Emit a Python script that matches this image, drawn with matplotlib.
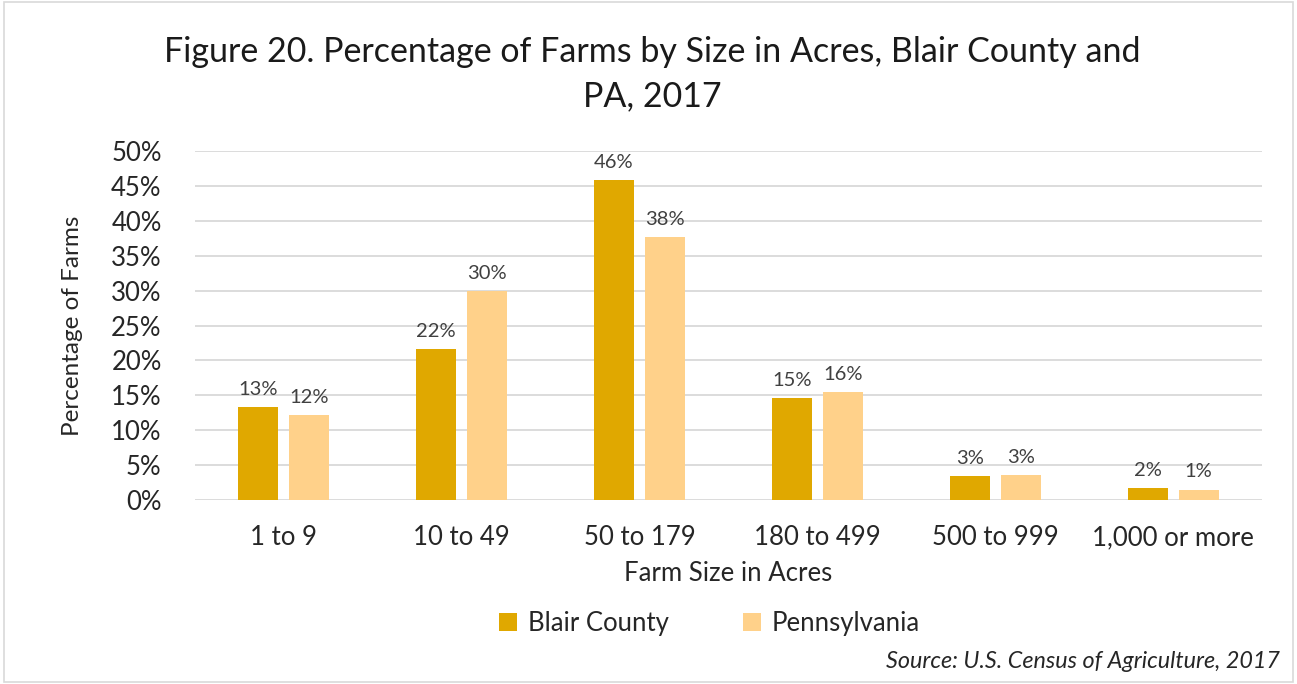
import numpy as np
import matplotlib.pyplot as plt
from matplotlib.patches import Rectangle

# Data
sizes = ["1 to 9", "10 to 49", "50 to 179", "180 to 499", "500 to 999", "1,000 or more"]
blair = [13.3, 21.6, 45.8, 14.6, 3.4, 1.7]
penn = [12.2, 30.0, 37.7, 15.5, 3.6, 1.5]
blair_labels = ["13%", "22%", "46%", "15%", "3%", "2%"]
penn_labels = ["12%", "30%", "38%", "16%", "3%", "1%"]
yticks = [0, 5, 10, 15, 20, 25, 30, 35, 40, 45, 50]

plt.rcParams['font.family'] = ['Lato', 'DejaVu Sans']

fig = plt.figure(figsize=(12.97, 6.84), dpi=100)
ax = fig.add_axes([195 / 1297, 1 - 500 / 684, (1262 - 195) / 1297, 349 / 684])

x = np.arange(len(sizes))
w = 0.225
off = 0.1435
c_blair = "#E0A800"
c_penn = "#FFD18A"
ax.bar(x - off, blair, w, color=c_blair, label="Blair County", zorder=3)
ax.bar(x + off, penn, w, color=c_penn, label="Pennsylvania", zorder=3)

for i in range(len(sizes)):
    ax.text(x[i] - off, blair[i] + 1.3, blair_labels[i], ha='center', va='bottom',
            fontsize=14.5, color="#404040")
    ax.text(x[i] + off, penn[i] + 1.3, penn_labels[i], ha='center', va='bottom',
            fontsize=14.5, color="#404040")

ax.set_xlim(-0.5, len(sizes) - 0.5)
ax.set_ylim(0, 50)
ax.set_yticks(yticks)
ax.set_yticklabels([f"{t}%" for t in yticks], fontsize=18.5, color="#262626")
ax.set_xticks(x)
ax.set_xticklabels(sizes, fontsize=18.5, color="#262626")
ax.tick_params(axis='both', length=0)
ax.tick_params(axis='x', pad=18)
ax.tick_params(axis='y', pad=24)
ax.grid(axis='y', color="#D9D9D9", linewidth=1.3, zorder=0)
for s in ax.spines.values():
    s.set_visible(False)

ax.set_xlabel("Farm Size in Acres", fontsize=18.5, color="#262626", labelpad=8)
ax.set_ylabel("Percentage of Farms", fontsize=17.5, color="#262626", labelpad=20)

fig.text(0.503, 1 - 52 / 684, "Figure 20. Percentage of Farms by Size in Acres, Blair County and",
         ha='center', va='center', fontsize=24.5, color="#1a1a1a")
fig.text(0.503, 1 - 96 / 684, "PA, 2017", ha='center', va='center', fontsize=24.5, color="#1a1a1a")

ax.legend(loc='center', bbox_to_anchor=(0.482, -0.355), ncol=2, frameon=False,
          fontsize=18.5, handlelength=0.7, handleheight=0.7, columnspacing=2.9,
          handletextpad=0.4, labelcolor="#262626")

fig.text(1280 / 1297, 1 - 661 / 684, "Source: U.S. Census of Agriculture, 2017",
         ha='right', va='center', fontsize=16.8, style='italic', color="#262626")

# light border around the chart
fig.patches.append(Rectangle((0.003, 0.003), 0.994, 0.994, transform=fig.transFigure,
                             fill=False, edgecolor="#D9D9D9", linewidth=1.2))

fig.savefig("out.png", dpi=100)
